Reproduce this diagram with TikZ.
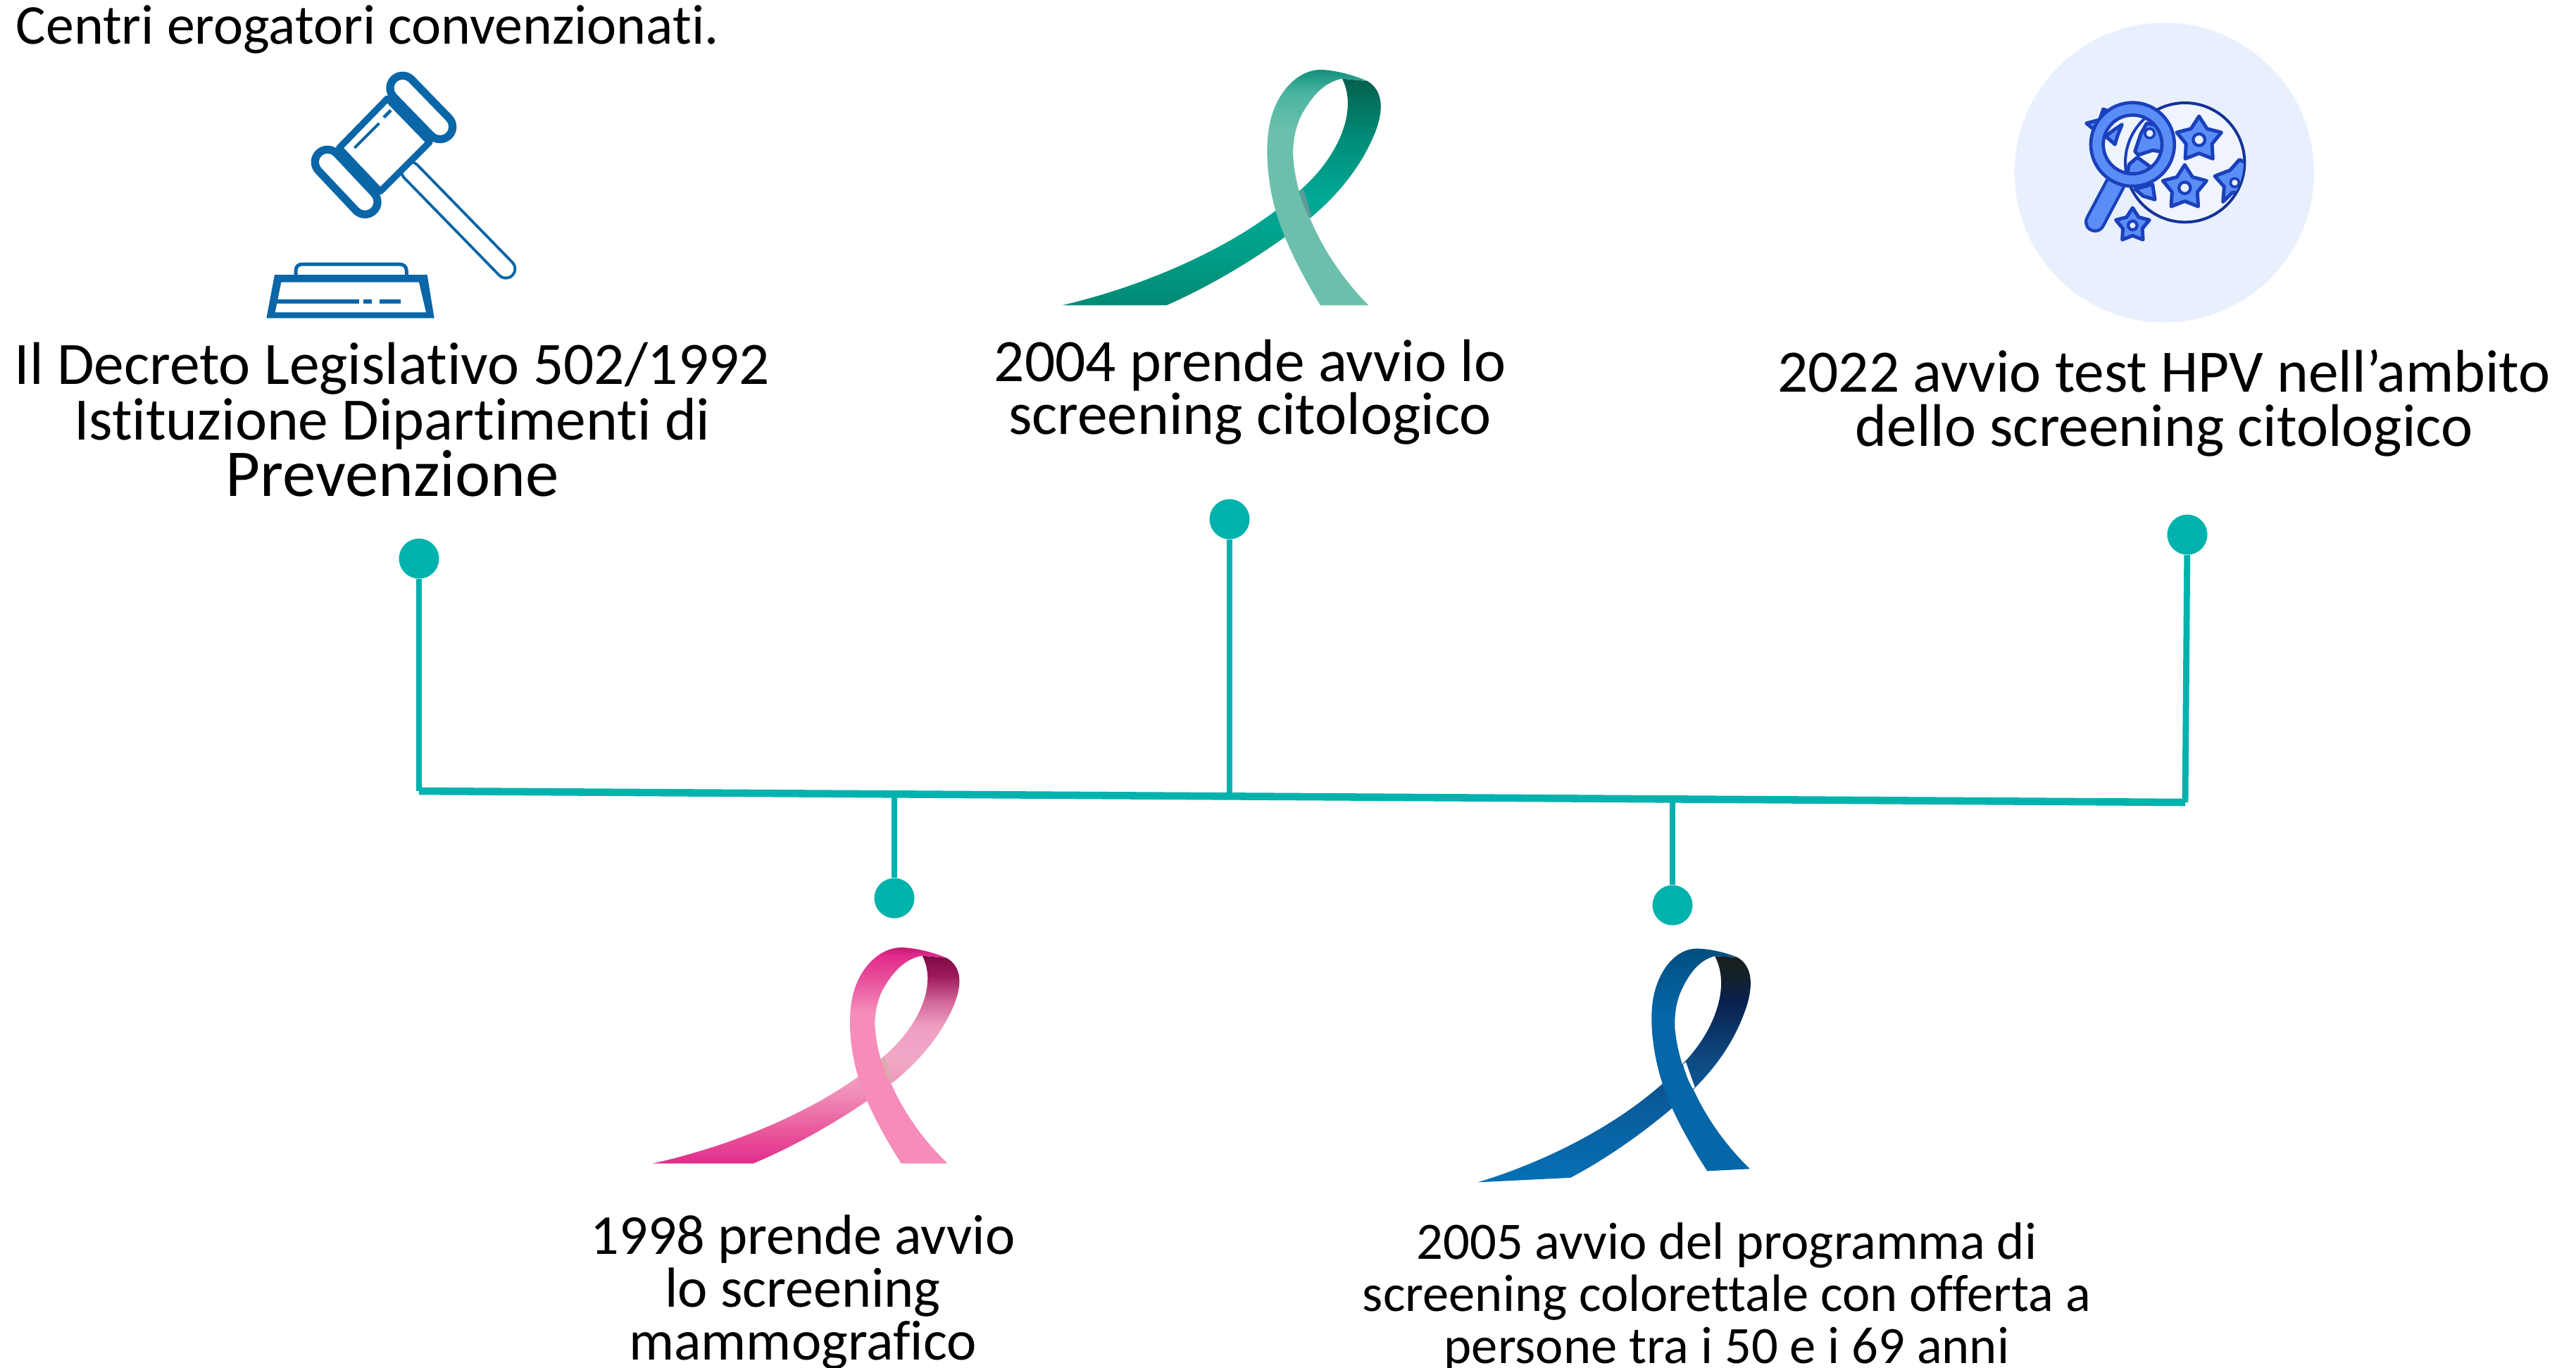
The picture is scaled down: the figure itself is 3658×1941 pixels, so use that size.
\documentclass[tikz,border=0pt]{standalone}
\usepackage{fontspec}
\setmainfont[Ligatures=NoCommon]{Carlito}
\newlength{\zu}\setlength{\zu}{0.0948pt}
\definecolor{tl}{HTML}{00B2AD}
\definecolor{gav}{HTML}{0A66A6}
\definecolor{icf}{HTML}{5B8DF6}
\definecolor{ics}{HTML}{1A40BC}
\definecolor{tint}{HTML}{E8F0FE}
% ribbon shadings: bottom -> top, bbox is 25bp..75bp
\pgfdeclareverticalshading{tealback}{100bp}{rgb(0bp)=(0.004,0.541,0.455); rgb(25bp)=(0.004,0.541,0.455); rgb(38.5bp)=(0,0.63,0.54); rgb(48.8bp)=(0,0.66,0.59); rgb(61.8bp)=(0,0.55,0.47); rgb(75bp)=(0.02,0.37,0.30); rgb(100bp)=(0.02,0.37,0.30)}
\pgfdeclareverticalshading{tealfront}{100bp}{rgb(0bp)=(0.42,0.75,0.67); rgb(62bp)=(0.42,0.75,0.67); rgb(70bp)=(0.29,0.71,0.63); rgb(75bp)=(0.06,0.56,0.48); rgb(100bp)=(0.06,0.56,0.48)}
\pgfdeclareverticalshading{pinkback}{100bp}{rgb(0bp)=(0.89,0.17,0.55); rgb(25bp)=(0.89,0.17,0.55); rgb(33bp)=(0.91,0.35,0.61); rgb(42bp)=(0.94,0.56,0.72); rgb(50bp)=(0.94,0.66,0.78); rgb(58bp)=(0.94,0.62,0.76); rgb(64bp)=(0.82,0.40,0.60); rgb(70bp)=(0.62,0.10,0.36); rgb(75bp)=(0.49,0.04,0.27); rgb(100bp)=(0.49,0.04,0.27)}
\pgfdeclareverticalshading{pinkfront}{100bp}{rgb(0bp)=(0.96,0.55,0.73); rgb(60bp)=(0.96,0.55,0.73); rgb(68bp)=(0.90,0.30,0.60); rgb(73bp)=(0.89,0.17,0.55); rgb(75bp)=(0.75,0.10,0.45); rgb(100bp)=(0.75,0.10,0.45)}
\pgfdeclareverticalshading{blueback}{100bp}{rgb(0bp)=(0.02,0.44,0.71); rgb(25bp)=(0.02,0.44,0.71); rgb(42bp)=(0.04,0.36,0.61); rgb(52bp)=(0.055,0.29,0.51); rgb(65bp)=(0.04,0.13,0.31); rgb(72bp)=(0.09,0.13,0.13); rgb(100bp)=(0.09,0.13,0.13)}
\pgfdeclareverticalshading{bluefront}{100bp}{rgb(0bp)=(0.02,0.40,0.66); rgb(60bp)=(0.02,0.40,0.66); rgb(75bp)=(0,0.31,0.50); rgb(100bp)=(0,0.31,0.50)}
\tikzset{
  dot/.style={circle,fill=tl,draw=none,minimum size=16.2pt,inner sep=0pt},
  link/.style={draw=tl,line width=2.5pt},
  mainlink/.style={draw=tl,line width=3pt},
  txt/.style={inner sep=0pt,align=center,text=black},
  gln/.style={draw=gav,line cap=butt},
  icon/.style={fill=icf,draw=ics,line width=15\zu,line join=round},
}
\newcommand{\rib}[4]{%
 \begin{scope}[cm={#1}]
  \path[shading=#2] (85,1060) .. controls (450,975) and (850,800) .. (1097,572)
    .. controls (1250,440) and (1350,240) .. (1278,95) -- (1385,105)
    .. controls (1460,150) and (1450,240) .. (1420,320)
    .. controls (1360,470) and (1260,590) .. (1140,690)
    .. controls (1000,800) and (780,950) .. (530,1060) -- cycle;
  \fill[#4] (1097,575) -- (1112,565) -- (1148,680) -- (1130,692) -- cycle;
  \path[shading=#3] (1185,1060) .. controls (1100,920) and (1030,780) .. (995,660)
    .. controls (960,540) and (950,400) .. (965,310)
    .. controls (985,170) and (1080,55) .. (1190,57)
    .. controls (1260,60) and (1340,85) .. (1385,105) -- (1278,95)
    .. controls (1200,110) and (1150,170) .. (1110,240)
    .. controls (1070,310) and (1065,400) .. (1070,440)
    .. controls (1080,560) and (1120,660) .. (1145,700)
    .. controls (1200,830) and (1290,960) .. (1390,1060) -- cycle;
 \end{scope}}
\newcommand{\icstar}[4]{%
 \begin{scope}[shift={(#1,#2)},rotate=#4]
  \filldraw[icon] (-90:#3) -- (-54:{.58*#3}) -- (-18:#3) -- (18:{.58*#3}) -- (54:#3) -- (90:{.58*#3}) -- (126:#3) -- (162:{.58*#3}) -- (198:#3) -- (234:{.58*#3}) -- cycle;
  \filldraw[fill=tint,draw=ics,line width=13\zu] (0,0) circle ({.25*#3});
 \end{scope}}
\begin{document}
\begin{tikzpicture}[x=0.01cm,y=-0.01cm]
\useasboundingbox (0,0) rectangle (3658,1941);
\fill[white] (0,0) rectangle (3658,1941);

% gavel
\begin{scope}[shift={(340,60)},scale=1/3]
 \draw[gav,line width=90\zu,line cap=round] (730,550) -- (1135,965);
 \draw[white,line width=66\zu,line cap=round] (730,550) -- (1135,965);
 \draw[gav,line width=140\zu,line cap=round] (695,195) -- (855,360);
 \draw[white,line width=72\zu,line cap=round] (695,195) -- (855,360);
 \draw[gav,line width=140\zu,line cap=round] (375,510) -- (535,680);
 \draw[white,line width=72\zu,line cap=round] (375,510) -- (535,680);
 \filldraw[fill=white,draw=gav,line width=28\zu,line join=round] (630,240) -- (810,425) -- (600,635) -- (425,450) -- cycle;
 \draw[gln,line width=12\zu] (490,450) -- (595,345);
 \draw[gln,line width=14\zu] (615,320) -- (645,290);
 \draw[gav,line width=15\zu] (240,995) -- (240,975) .. controls (240,955) and (250,945) .. (270,945) -- (680,945) .. controls (700,945) and (712,955) .. (712,975) -- (712,995);
 \fill[gav,even odd rule] (150,990) -- (800,990) -- (830,1175) -- (115,1175) -- cycle
   (178,1022) -- (152,1150) -- (795,1150) -- (765,1022) -- cycle;
 \draw[gln,line width=18\zu] (160,1103) -- (510,1103);
 \draw[gln,line width=18\zu] (528,1103) -- (563,1103);
 \draw[gln,line width=18\zu] (598,1103) -- (686,1103);
\end{scope}

% ribbons
\rib{.3333,0,0,.3333,(1480,80)}{tealback}{tealfront}{fill=teal!55!gray!80}
\rib{.321,0,0,.3057,(899.4,1327.6)}{pinkback}{pinkfront}{fill=pink!70!gray}
\rib{.2963,.01457,-.0174,.3147,(2054.7,1346)}{blueback}{bluefront}{fill=white}

% search icon
\begin{scope}[shift={(2840,20)},scale=1/3]
 \fill[tint] (700,675) circle (638);
 \filldraw[fill=tint!70!white,draw=ics!80!black,line width=12\zu] (788,632) circle (254);
 \icstar{848}{535}{100}{0}
 \icstar{787}{740}{98}{0}
 \begin{scope}
  \clip (788,632) circle (250);
  \filldraw[icon] (915,690) -- (980,665) -- (1020,620) -- (1060,640) -- (1060,760) -- (990,760) -- (950,800) -- (955,735) -- cycle;
  \filldraw[fill=tint,draw=ics,line width=11\zu] (1000,718) circle (18);
  \filldraw[icon] (575,745) -- (650,725) -- (660,790) -- (610,775) -- cycle;
 \end{scope}
 \filldraw[icon] (368,465) -- (425,450) -- (440,405) -- (480,420) -- (430,510) -- (405,495) -- cycle;
 \icstar{565}{900}{75}{0}
 \draw[ics,line width=90\zu,line cap=round] (490,725) -- (405,885);
 \draw[icf,line width=64\zu,line cap=round] (490,725) -- (405,885);
 \filldraw[fill=icf,draw=ics,line width=14\zu] (565,555) circle (178);
 \begin{scope}
  \clip (565,555) circle (125);
  \fill[tint!70!white] (565,555) circle (125);
  \filldraw[icon] (450,520) -- (490,490) -- (520,470) -- (500,520) -- (490,555) -- cycle;
  \filldraw[icon] (575,585) -- (600,510) -- (625,465) -- (700,480) -- (710,590) -- (650,580) -- (590,600) -- cycle;
  \filldraw[icon] (540,690) -- (550,640) -- (585,610) -- (640,650) -- (700,670) -- (680,700) -- cycle;
  \draw[ics,line width=12\zu] (788,632) circle (254);
  \filldraw[fill=tint,draw=ics,line width=11\zu] (638,508) circle (20);
 \end{scope}
 \draw[ics,line width=14\zu] (565,555) circle (125);
\end{scope}

% timeline
\node[dot] (d1) at (595,793) {};
\node[dot] (d2) at (1270,1275) {};
\node[dot] (d3) at (1746,737) {};
\node[dot] (d4) at (2375,1285) {};
\node[dot] (d5) at (3106,759) {};
\coordinate (j1) at (595,1123);
\coordinate (j2) at (1270,1128);
\coordinate (j3) at (1746,1131);
\coordinate (j4) at (2375,1135);
\coordinate (j5) at (3103,1139);
\draw[mainlink] (j1) -- (j5);
\draw[link] (d1) -- (j1);
\draw[link] (d2) -- (j2);
\draw[link] (d3) -- (j3);
\draw[link] (d4) -- (j4);
\draw[link] (d5) -- (j5);

% texts
\node[txt,anchor=base west,font=\fontsize{22.7pt}{22pt}\selectfont] (t0) at (22,62) {Centri erogatori convenzionati.};
\node[txt,anchor=base,font=\fontsize{24.3pt}{22.5pt}\selectfont] (t1) at (557,704) {Il Decreto Legislativo 502/1992\\Istituzione Dipartimenti di\\{\fontsize{27pt}{22.5pt}\selectfont Prevenzione}};
\node[txt,anchor=base,font=\fontsize{24.3pt}{21.2pt}\selectfont] (t2) at (1775,616) {2004 prende avvio lo\\screening citologico};
\node[txt,anchor=base,font=\fontsize{24.3pt}{21.9pt}\selectfont] (t3) at (3073,633) {2022 avvio test HPV nell’ambito\\dello screening citologico};
\node[txt,anchor=base,font=\fontsize{22.8pt}{21.2pt}\selectfont] (t4) at (1140,1930) {1998 prende avvio\\lo screening\\mammografico};
\node[txt,anchor=base,font=\fontsize{21.2pt}{21pt}\selectfont] (t5) at (2452,1935) {2005 avvio del programma di\\screening colorettale con offerta a\\persone tra i 50 e i 69 anni};
\end{tikzpicture}
\end{document}
